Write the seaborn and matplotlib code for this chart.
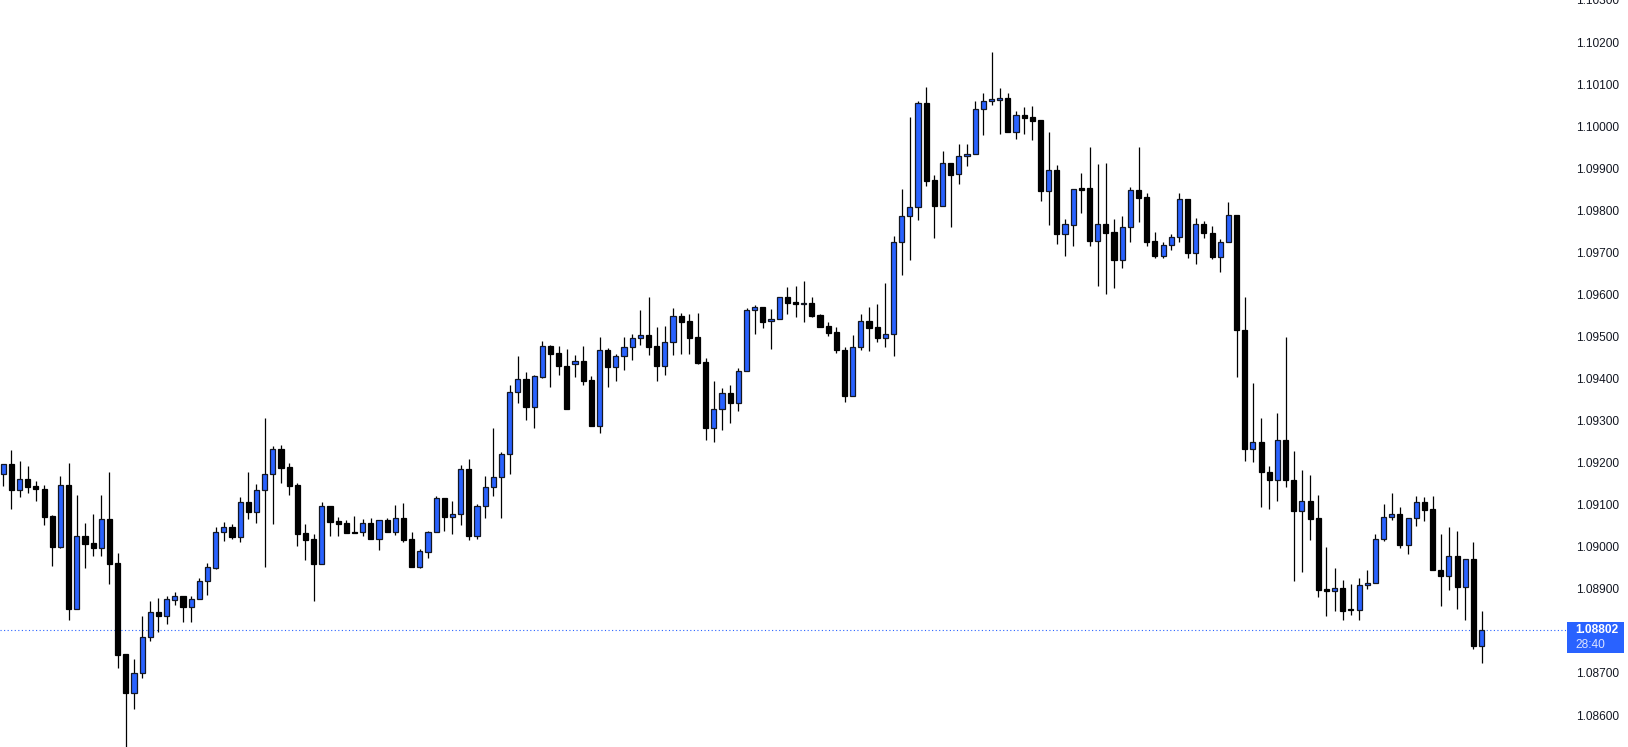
import matplotlib
matplotlib.use("Agg")
import matplotlib.pyplot as plt
import seaborn as sns
import numpy as np
from matplotlib.patches import Rectangle

# OHLC values, one candle per entry (left to right)
opens = [
    1.09172, 1.09196, 1.09134, 1.09160, 1.09144, 1.09137, 1.09073, 1.09000, 1.09146, 1.08853,
    1.09025, 1.09008, 1.08998, 1.09065, 1.08961, 1.08744, 1.08653, 1.08701, 1.08785, 1.08846,
    1.08836, 1.08874, 1.08882, 1.08857, 1.08877, 1.08918, 1.08950, 1.09034, 1.09048, 1.09024,
    1.09106, 1.09082, 1.09136, 1.09174, 1.09232, 1.09189, 1.09147, 1.09032, 1.09018, 1.08960,
    1.09096, 1.09061, 1.09056, 1.09034, 1.09034, 1.09056, 1.09019, 1.09063, 1.09036, 1.09068,
    1.09018, 1.08953, 1.08988, 1.09034, 1.09115, 1.09071, 1.09079, 1.09186, 1.09026, 1.09096,
    1.09141, 1.09165, 1.09220, 1.09367, 1.09398, 1.09333, 1.09404, 1.09477, 1.09460, 1.09431,
    1.09434, 1.09441, 1.09396, 1.09286, 1.09469, 1.09428, 1.09453, 1.09474, 1.09496, 1.09503,
    1.09477, 1.09431, 1.09486, 1.09548, 1.09536, 1.09498, 1.09439, 1.09283, 1.09327, 1.09365,
    1.09343, 1.09419, 1.09562, 1.09569, 1.09536, 1.09541, 1.09593, 1.09581, 1.09578, 1.09579,
    1.09550, 1.09524, 1.09510, 1.09469, 1.09359, 1.09476, 1.09538, 1.09522, 1.09497, 1.09507,
    1.09724, 1.09786, 1.09809, 1.10054, 1.09871, 1.09811, 1.09912, 1.09886, 1.09928, 1.09935,
    1.10040, 1.10061, 1.10062, 1.10066, 1.09987, 1.10026, 1.10021, 1.10014, 1.09847, 1.09897,
    1.09744, 1.09766, 1.09852, 1.09852, 1.09728, 1.09767, 1.09748, 1.09683, 1.09760, 1.09848,
    1.09831, 1.09726, 1.09692, 1.09717, 1.09736, 1.09826, 1.09698, 1.09767, 1.09745, 1.09690,
    1.09724, 1.09788, 1.09515, 1.09232, 1.09248, 1.09179, 1.09158, 1.09255, 1.09158, 1.09084,
    1.09110, 1.09068, 1.08899, 1.08894, 1.08901, 1.08852, 1.08850, 1.08908, 1.08915, 1.09018,
    1.09070, 1.09077, 1.09005, 1.09068, 1.09106, 1.09089, 1.08946, 1.08931, 1.08977, 1.08905,
    1.08972, 1.08765,
]
closes = [
    1.09196, 1.09134, 1.09160, 1.09143, 1.09137, 1.09071, 1.09000, 1.09146, 1.08853, 1.09025,
    1.09007, 1.08998, 1.09065, 1.08960, 1.08743, 1.08653, 1.08701, 1.08785, 1.08846, 1.08836,
    1.08875, 1.08882, 1.08857, 1.08877, 1.08918, 1.08951, 1.09034, 1.09048, 1.09024, 1.09106,
    1.09082, 1.09136, 1.09174, 1.09232, 1.09188, 1.09145, 1.09031, 1.09017, 1.08960, 1.09096,
    1.09060, 1.09055, 1.09033, 1.09033, 1.09056, 1.09019, 1.09063, 1.09036, 1.09068, 1.09017,
    1.08953, 1.08990, 1.09034, 1.09115, 1.09071, 1.09079, 1.09186, 1.09026, 1.09096, 1.09141,
    1.09165, 1.09220, 1.09367, 1.09398, 1.09333, 1.09405, 1.09477, 1.09459, 1.09431, 1.09328,
    1.09441, 1.09395, 1.09286, 1.09469, 1.09428, 1.09453, 1.09474, 1.09496, 1.09503, 1.09476,
    1.09431, 1.09486, 1.09548, 1.09535, 1.09497, 1.09438, 1.09283, 1.09327, 1.09365, 1.09343,
    1.09419, 1.09562, 1.09569, 1.09535, 1.09541, 1.09593, 1.09580, 1.09578, 1.09579, 1.09549,
    1.09523, 1.09509, 1.09469, 1.09359, 1.09476, 1.09538, 1.09521, 1.09497, 1.09507, 1.09724,
    1.09786, 1.09809, 1.10054, 1.09870, 1.09811, 1.09912, 1.09885, 1.09928, 1.09935, 1.10040,
    1.10059, 1.10063, 1.10066, 1.09987, 1.10026, 1.10020, 1.10013, 1.09847, 1.09897, 1.09744,
    1.09767, 1.09850, 1.09849, 1.09728, 1.09767, 1.09747, 1.09683, 1.09760, 1.09848, 1.09830,
    1.09725, 1.09692, 1.09717, 1.09736, 1.09826, 1.09698, 1.09767, 1.09745, 1.09690, 1.09724,
    1.09788, 1.09515, 1.09232, 1.09248, 1.09179, 1.09158, 1.09255, 1.09158, 1.09084, 1.09110,
    1.09067, 1.08898, 1.08894, 1.08901, 1.08848, 1.08850, 1.08908, 1.08915, 1.09018, 1.09070,
    1.09077, 1.09005, 1.09068, 1.09106, 1.09088, 1.08945, 1.08931, 1.08977, 1.08905, 1.08972,
    1.08765, 1.08802,
]
highs = [
    1.09196, 1.09230, 1.09204, 1.09192, 1.09156, 1.09147, 1.09075, 1.09168, 1.09199, 1.09123,
    1.09056, 1.09078, 1.09123, 1.09178, 1.08985, 1.08744, 1.08733, 1.08835, 1.08871, 1.08878,
    1.08883, 1.08892, 1.08884, 1.08883, 1.08926, 1.08961, 1.09047, 1.09059, 1.09053, 1.09118,
    1.09178, 1.09149, 1.09306, 1.09239, 1.09242, 1.09199, 1.09151, 1.09054, 1.09030, 1.09106,
    1.09098, 1.09071, 1.09064, 1.09073, 1.09065, 1.09068, 1.09063, 1.09068, 1.09099, 1.09104,
    1.09034, 1.08994, 1.09037, 1.09120, 1.09117, 1.09109, 1.09194, 1.09209, 1.09101, 1.09168,
    1.09282, 1.09225, 1.09385, 1.09454, 1.09416, 1.09408, 1.09489, 1.09479, 1.09477, 1.09470,
    1.09456, 1.09477, 1.09406, 1.09498, 1.09472, 1.09458, 1.09498, 1.09506, 1.09563, 1.09594,
    1.09522, 1.09525, 1.09567, 1.09557, 1.09553, 1.09556, 1.09450, 1.09394, 1.09377, 1.09385,
    1.09425, 1.09567, 1.09576, 1.09569, 1.09565, 1.09593, 1.09618, 1.09620, 1.09632, 1.09594,
    1.09553, 1.09534, 1.09522, 1.09474, 1.09503, 1.09553, 1.09570, 1.09577, 1.09627, 1.09740,
    1.09850, 1.10021, 1.10060, 1.10093, 1.09883, 1.09940, 1.09912, 1.09958, 1.09958, 1.10060,
    1.10078, 1.10176, 1.10090, 1.10078, 1.10035, 1.10045, 1.10047, 1.10014, 1.09985, 1.09907,
    1.09779, 1.09850, 1.09888, 1.09950, 1.09909, 1.09912, 1.09779, 1.09786, 1.09855, 1.09950,
    1.09840, 1.09748, 1.09724, 1.09743, 1.09840, 1.09826, 1.09781, 1.09774, 1.09762, 1.09731,
    1.09819, 1.09788, 1.09594, 1.09389, 1.09306, 1.09193, 1.09318, 1.09498, 1.09227, 1.09182,
    1.09170, 1.09122, 1.08999, 1.08949, 1.08920, 1.08911, 1.08925, 1.08944, 1.09030, 1.09102,
    1.09128, 1.09094, 1.09068, 1.09121, 1.09118, 1.09121, 1.09030, 1.09047, 1.09037, 1.08972,
    1.09011, 1.08847,
]
lows = [
    1.09145, 1.09091, 1.09119, 1.09129, 1.09110, 1.09052, 1.08955, 1.08998, 1.08827, 1.08853,
    1.08950, 1.08979, 1.08979, 1.08912, 1.08712, 1.08524, 1.08615, 1.08689, 1.08777, 1.08798,
    1.08817, 1.08862, 1.08822, 1.08822, 1.08877, 1.08886, 1.08948, 1.09014, 1.09019, 1.09012,
    1.09067, 1.09057, 1.08953, 1.09055, 1.09152, 1.09124, 1.09002, 1.08969, 1.08872, 1.08960,
    1.09026, 1.09026, 1.09033, 1.09033, 1.09026, 1.09019, 1.08993, 1.09036, 1.09028, 1.09012,
    1.08953, 1.08950, 1.08974, 1.09034, 1.09038, 1.09031, 1.09052, 1.09017, 1.09019, 1.09069,
    1.09121, 1.09069, 1.09174, 1.09343, 1.09302, 1.09283, 1.09402, 1.09381, 1.09409, 1.09328,
    1.09404, 1.09385, 1.09286, 1.09270, 1.09381, 1.09395, 1.09421, 1.09445, 1.09480, 1.09457,
    1.09395, 1.09409, 1.09457, 1.09459, 1.09459, 1.09435, 1.09255, 1.09250, 1.09278, 1.09295,
    1.09324, 1.09419, 1.09507, 1.09521, 1.09471, 1.09541, 1.09554, 1.09546, 1.09535, 1.09546,
    1.09523, 1.09502, 1.09461, 1.09345, 1.09359, 1.09469, 1.09466, 1.09488, 1.09474, 1.09454,
    1.09645, 1.09681, 1.09778, 1.09857, 1.09735, 1.09811, 1.09761, 1.09863, 1.09906, 1.09935,
    1.09980, 1.10051, 1.09982, 1.09987, 1.09970, 1.09982, 1.09966, 1.09821, 1.09764, 1.09721,
    1.09692, 1.09716, 1.09794, 1.09716, 1.09621, 1.09602, 1.09616, 1.09664, 1.09725, 1.09773,
    1.09714, 1.09687, 1.09687, 1.09706, 1.09724, 1.09687, 1.09673, 1.09733, 1.09685, 1.09654,
    1.09724, 1.09404, 1.09205, 1.09202, 1.09095, 1.09091, 1.09110, 1.09141, 1.08919, 1.08941,
    1.09017, 1.08881, 1.08836, 1.08848, 1.08827, 1.08838, 1.08827, 1.08899, 1.08915, 1.09014,
    1.09064, 1.08998, 1.08984, 1.09050, 1.09062, 1.08945, 1.08860, 1.08898, 1.08853, 1.08827,
    1.08758, 1.08724,
]

last_price = 1.08802
countdown = "28:40"
price_ticks = [1.086, 1.087, 1.089, 1.090, 1.091, 1.092, 1.093, 1.094, 1.095,
               1.096, 1.097, 1.098, 1.099, 1.100, 1.101, 1.102, 1.103]

bull_color = "#2962FF"
bear_color = "#000000"
text_color = "#131722"

sns.set_theme(style="white")
plt.rcParams["font.family"] = ["Liberation Sans", "DejaVu Sans"]

o = np.array(opens)
c = np.array(closes)
h = np.array(highs)
l = np.array(lows)
x = np.arange(len(o))
up = c >= o

fig = plt.figure(figsize=(16.28, 7.47), dpi=100)
ax = fig.add_axes([0, 0, 1566 / 1628, 1])

# wicks
ax.vlines(x, l, h, color="#000000", linewidth=0.9, zorder=1)

# bodies (at least one pixel tall)
bottom = np.minimum(o, c)
height = np.maximum(np.abs(c - o), 0.000025)
ax.bar(x[up], height[up], bottom=bottom[up], width=0.62, color=bull_color,
       edgecolor="#131722", linewidth=0.9, zorder=2)
ax.bar(x[~up], height[~up], bottom=bottom[~up], width=0.62, color=bear_color,
       edgecolor=bear_color, linewidth=0.9, zorder=2)

# last price line
ax.axhline(last_price, color=bull_color, linewidth=0.8, linestyle=(0, (1, 2.2)), zorder=0)

ax.set_xlim(-0.404, 191.34)
ax.set_ylim(1.08524, 1.10300)
ax.set_xticks([])
ax.yaxis.tick_right()
ax.set_yticks(price_ticks)
ax.set_yticklabels([f"{t:.5f}" for t in price_ticks])
ax.tick_params(axis="y", length=0, pad=7, labelsize=8.6, labelcolor=text_color)
sns.despine(ax=ax, left=True, bottom=True, right=True, top=True)
ax.grid(False)

# price label box on the axis
fig.add_artist(Rectangle((1567 / 1628, 1 - 653 / 747), 57 / 1628, 31 / 747,
                         transform=fig.transFigure, facecolor=bull_color,
                         edgecolor="none", zorder=5))
fig.text(1575 / 1628, 1 - 630 / 747, f"{last_price:.5f}", color="white",
         fontsize=8.6, fontweight="bold", va="center", ha="left", zorder=6)
fig.text(1575 / 1628, 1 - 645 / 747, countdown, color="#dce4ff",
         fontsize=8.6, va="center", ha="left", zorder=6)

fig.savefig("out.png", dpi=100)
